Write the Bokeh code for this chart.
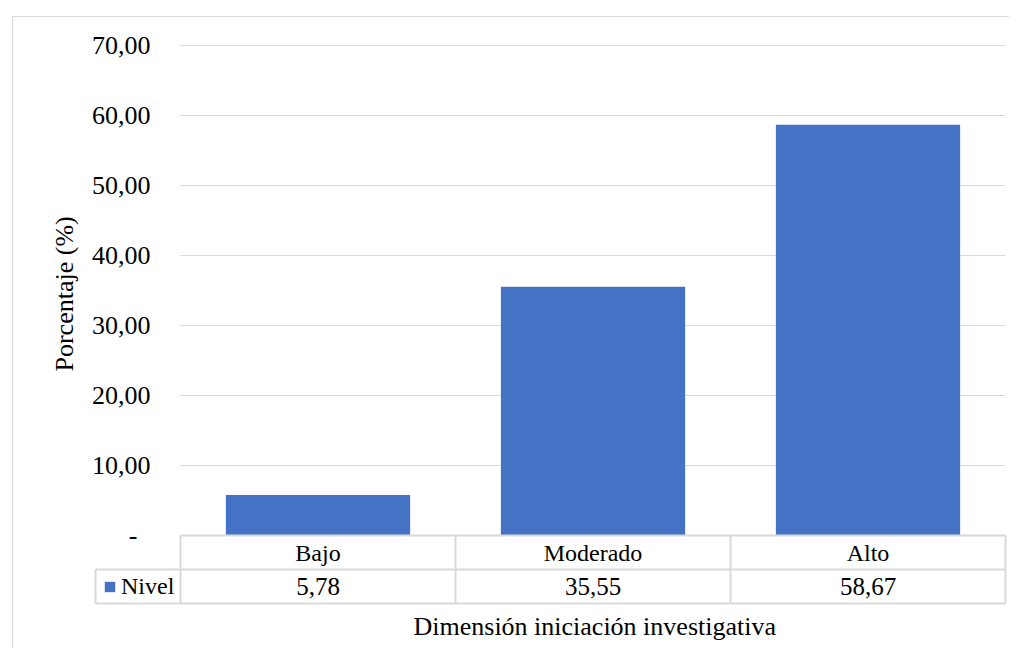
from bokeh.plotting import figure
from bokeh.models import Range1d, FixedTicker, Legend, LegendItem, Title
from bokeh.embed import file_html
from bokeh.resources import INLINE
from bokeh.core.properties import value

# ---- data ----
categories = ["Bajo", "Moderado", "Alto"]
values = [5.78, 35.55, 58.67]
series_name = "Nivel"
y_ticks = [0, 10, 20, 30, 40, 50, 60, 70]
y_title = "Porcentaje (%)"
x_title = "Dimensión iniciación investigativa"


def fmt(v):
    return f"{v:.2f}".replace(".", ",")


tick_labels = {t: ("-\u00a0\u00a0" if t == 0 else fmt(t)) for t in y_ticks}
value_labels = [fmt(v) for v in values]

# ---- style ----
FONT = "Liberation Serif"
BLUE = "#4472C4"
GRAY = "#D9D9D9"
TXT = "#000000"

n = len(categories)
x_pos = [i + 0.5 for i in range(n)]
ROW_H = 4.86       # table row height (data units)
LEG_W = 0.309      # legend cell width (data units)

p = figure(
    width=997, height=632,
    x_range=Range1d(-0.32, n + 3 / 275),
    y_range=Range1d(-10.143, 72.143),
    output_backend="svg", toolbar_location=None, title=None,
    min_border_left=79, min_border_right=2, min_border_top=13, min_border_bottom=43,
)
p.styles = {
    "margin-left": "12px", "margin-top": "16px",
    "border-left": f"1px solid {GRAY}", "border-top": f"1px solid {GRAY}",
}
p.outline_line_color = None
p.background_fill_color = "white"
p.border_fill_color = "white"
p.xgrid.visible = False
p.ygrid.visible = False

# gridlines
gy = y_ticks[1:]
p.segment(x0=[0] * len(gy), x1=[n] * len(gy), y0=gy, y1=gy, line_color=GRAY, line_width=1)

# bars
bars = p.vbar(x=x_pos, top=values, bottom=0, width=0.67, fill_color=BLUE, line_color=None)

# data table lines
hy = [0, -ROW_H, -2 * ROW_H]
hx0 = [0, -LEG_W, -LEG_W]
p.segment(x0=hx0, x1=[n] * 3, y0=hy, y1=hy, line_color=GRAY, line_width=2)
vx = list(range(n + 1))
p.segment(x0=vx, x1=vx, y0=[0] * len(vx), y1=[-2 * ROW_H] * len(vx), line_color=GRAY, line_width=2)
p.segment(x0=[-LEG_W], x1=[-LEG_W], y0=[-ROW_H], y1=[-2 * ROW_H], line_color=GRAY, line_width=2)

# table text
p.text(x=x_pos, y=[-ROW_H / 2] * n, text=categories, text_align="center", text_baseline="middle",
       text_font=value(FONT), text_font_size="24px", text_color=TXT)
p.text(x=x_pos, y=[-1.5 * ROW_H] * n, text=value_labels, text_align="center", text_baseline="middle",
       text_font=value(FONT), text_font_size="25px", text_color=TXT)

# legend key in table
legend = Legend(
    items=[LegendItem(label=series_name, renderers=[bars])],
    location=(11, 6), padding=0, margin=0, spacing=0,
    glyph_width=13, glyph_height=13, label_standoff=5, label_height=13,
    border_line_color=None, background_fill_alpha=0,
    label_text_font=FONT, label_text_font_size="24px", label_text_color=TXT,
)
p.add_layout(legend)

# y axis
ya = p.yaxis[0]
ya.ticker = FixedTicker(ticks=y_ticks)
ya.major_label_overrides = tick_labels
ya.bounds = (0, 70)
ya.major_label_standoff = -58
ya.major_tick_out = 0
ya.major_tick_in = 0
ya.minor_tick_out = 0
ya.minor_tick_in = 0
ya.axis_line_color = None
ya.major_label_text_font = FONT
ya.major_label_text_font_size = "26px"
ya.major_label_text_color = TXT

# y axis title (offset so it is centred on the 0-70 value span)
ytitle = Title(text=y_title, align="left", offset=235, standoff=20,
               text_font=FONT, text_font_size="26px", text_font_style="normal",
               text_color=TXT)
p.add_layout(ytitle, "left")

# x axis: hidden, the category names are in the data table
p.xaxis.visible = False

# x axis title (centred on the category span)
xtitle = Title(text=x_title, align="left", offset=321, standoff=6,
               text_font=FONT, text_font_size="26px", text_font_style="normal",
               text_color=TXT)
p.add_layout(xtitle, "below")

open("out.html", "w").write(file_html(p, INLINE))
